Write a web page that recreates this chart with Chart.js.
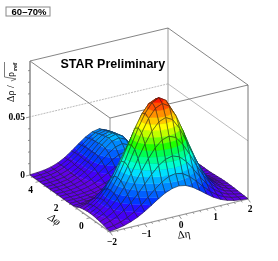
<!DOCTYPE html>
<html>
<head>
<meta charset="utf-8">
<script src="https://cdn.jsdelivr.net/npm/chart.js@4"></script>
<style>
html, body { margin: 0; padding: 0; background: #fff; }
canvas { display: block; }
</style>
</head>
<body>
<canvas id="surfaceChart" width="278" height="261"></canvas>
<script>
// bin edges of the correlation
const etaEdges = [-2, -1.8, -1.6, -1.4, -1.2, -1, -0.8, -0.6, -0.4, -0.2, 0, 0.2, 0.4, 0.6, 0.8, 1, 1.2, 1.4, 1.6, 1.8, 2];
const phiEdges = [-1.571, -1.309, -1.047, -0.785, -0.524, -0.262, 0, 0.262, 0.524, 0.785, 1.047, 1.309, 1.571, 1.833, 2.094, 2.356, 2.618, 2.88, 3.142, 3.403, 3.665, 3.927, 4.189, 4.451, 4.712];

// values, in units of 1e-4, one row per phi edge
const rhoRows = [
    [7, 14, 26, 45, 71, 105, 144, 185, 221, 246, 255, 244, 214, 173, 128, 86, 54, 31, 16, 8, 3],
    [10, 19, 35, 60, 95, 140, 192, 247, 295, 328, 340, 326, 286, 231, 170, 115, 72, 41, 21, 10, 4],
    [21, 38, 63, 102, 153, 215, 285, 355, 415, 455, 470, 450, 395, 319, 235, 159, 99, 56, 30, 14, 6],
    [27, 50, 84, 134, 202, 284, 376, 468, 547, 601, 620, 594, 521, 420, 311, 210, 131, 74, 39, 19, 8],
    [33, 61, 103, 164, 247, 348, 461, 574, 670, 736, 760, 728, 639, 515, 381, 258, 160, 91, 48, 23, 10],
    [38, 69, 116, 186, 280, 394, 522, 649, 759, 833, 860, 824, 723, 583, 431, 292, 181, 103, 54, 26, 11],
    [39, 71, 120, 192, 289, 408, 540, 672, 785, 862, 890, 853, 748, 603, 446, 302, 188, 107, 56, 27, 12],
    [38, 69, 116, 186, 280, 394, 522, 649, 759, 833, 860, 824, 723, 583, 431, 292, 181, 103, 54, 26, 11],
    [33, 59, 100, 160, 241, 339, 449, 559, 653, 717, 740, 709, 622, 502, 371, 251, 156, 89, 47, 22, 10],
    [25, 45, 76, 121, 182, 256, 340, 423, 494, 543, 560, 536, 471, 380, 281, 190, 118, 67, 35, 17, 7],
    [11, 21, 39, 67, 106, 156, 215, 276, 329, 367, 380, 364, 320, 258, 190, 129, 80, 46, 24, 11, 5],
    [2, 5, 12, 24, 44, 73, 113, 157, 198, 229, 240, 227, 192, 146, 99, 60, 32, 16, 7, 3, 1],
    [1, 2, 5, 11, 22, 40, 66, 97, 128, 151, 160, 148, 116, 78, 44, 22, 9, 3, 1, 0, 0],
    [0, 1, 3, 8, 16, 30, 49, 73, 96, 114, 120, 111, 87, 58, 33, 16, 7, 2, 1, 0, 0],
    [0, 1, 3, 8, 16, 30, 49, 73, 96, 114, 120, 111, 87, 58, 33, 16, 7, 2, 1, 0, 0],
    [1, 2, 5, 11, 23, 42, 70, 103, 136, 161, 170, 157, 123, 83, 47, 23, 10, 3, 1, 0, 0],
    [1, 2, 6, 15, 30, 55, 90, 134, 176, 208, 220, 199, 148, 90, 45, 19, 6, 2, 0, 0, 0],
    [1, 3, 8, 18, 36, 67, 111, 164, 216, 255, 270, 245, 182, 111, 56, 23, 8, 2, 1, 0, 0],
    [1, 3, 9, 20, 41, 75, 123, 182, 240, 284, 300, 272, 202, 123, 62, 26, 9, 2, 1, 0, 0],
    [1, 3, 9, 20, 42, 77, 127, 188, 248, 293, 310, 281, 209, 127, 64, 26, 9, 2, 1, 0, 0],
    [1, 3, 9, 20, 41, 75, 123, 182, 240, 284, 300, 272, 202, 123, 62, 26, 9, 2, 1, 0, 0],
    [2, 5, 11, 24, 46, 80, 128, 183, 236, 276, 290, 263, 195, 119, 60, 25, 8, 2, 1, 0, 0],
    [3, 6, 13, 27, 51, 86, 131, 183, 232, 267, 280, 254, 189, 115, 58, 24, 8, 2, 1, 0, 0],
    [2, 6, 13, 26, 49, 82, 126, 175, 222, 256, 268, 243, 181, 110, 55, 23, 8, 2, 1, 0, 0],
    [2, 6, 12, 25, 46, 78, 120, 167, 211, 243, 255, 231, 172, 105, 53, 22, 7, 2, 1, 0, 0]
];

const etaTicks = [-2, -1, 0, 1, 2];
const phiTicks = [0, 2, 4];
const rhoTicks = ['0', '0.05'];
const centralityLabel = '60\u201370%';
const starLabel = 'STAR Preliminary';

// ROOT style rainbow, one colour per contour band
const bandColors = ['#6000e8', '#4400f8', '#2410ff', '#0038ff', '#0060ff', '#0088ff', '#00b0ff', '#00e0ff', '#00ffd0', '#00ff90',
    '#00ff50', '#20ff00', '#70ff00', '#c0ff00', '#ffff00', '#ffc800', '#ff9000', '#ff5000', '#ff1800', '#e00000'];
const bandStep = 0.0048;

const etaMin = -2, etaMax = 2, phiMin = -1.571, phiMax = 4.712, rhoMax = 0.098;

// box projection, orthographic, in canvas units
function project(eta, phi, rho) {
    const s = (eta - etaMin) / (etaMax - etaMin);
    const t = (phi - phiMin) / (phiMax - phiMin);
    return {
        x: 110 + 138 * s - 80 * t,
        y: 232 - 33 * s - 57 * t - 114 * rho / rhoMax
    };
}

function lineSet(points, color, width, dash) {
    return {
        data: points, showLine: true, fill: false, pointRadius: 0, tension: 0,
        borderColor: color, borderWidth: width, borderDash: dash || [], clip: false
    };
}

// clip a polygon of {eta,phi,rho} to rho >= lo (sign 1) or rho <= lo (sign -1)
function clipRho(poly, level, sign) {
    const out = [];
    for (let i = 0; i < poly.length; i++) {
        const a = poly[i], b = poly[(i + 1) % poly.length];
        const da = (a.rho - level) * sign, db = (b.rho - level) * sign;
        if (da >= 0) out.push(a);
        if ((da >= 0) !== (db >= 0)) {
            const f = da / (da - db);
            out.push({
                eta: a.eta + f * (b.eta - a.eta),
                phi: a.phi + f * (b.phi - a.phi),
                rho: a.rho + f * (b.rho - a.rho)
            });
        }
    }
    return out;
}

const paintList = [];

// box behind the surface
const corner = (eta, phi, rho) => project(eta, phi, rho);
const boxColor = '#666';
paintList.push(lineSet([corner(etaMax, phiMax, 0.05), corner(etaMin, phiMax, 0.05)], '#aaa', 0.8, [2, 1]));
paintList.push(lineSet([corner(etaMax, phiMax, 0.05), corner(etaMax, phiMin, 0.05)], '#aaa', 0.8));
paintList.push(lineSet([corner(etaMax, phiMax, 0), corner(etaMax, phiMax, rhoMax)], '#aaa', 1.2));
paintList.push(lineSet([corner(etaMin, phiMin, 0), corner(etaMin, phiMin, rhoMax)], '#777', 0.8));
paintList.push(lineSet([corner(etaMax, phiMin, 0), corner(etaMax, phiMin, rhoMax)], '#777', 1));
paintList.push(lineSet([corner(etaMax, phiMax, 0), corner(etaMax, phiMin, 0)], '#aaa', 1));
paintList.push(lineSet([corner(etaMin, phiMax, rhoMax), corner(etaMax, phiMax, rhoMax), corner(etaMax, phiMin, rhoMax),
    corner(etaMin, phiMin, rhoMax), corner(etaMin, phiMax, rhoMax)], boxColor, 0.8));
paintList.push(lineSet([corner(etaMin, phiMax, 0), corner(etaMin, phiMax, rhoMax)], '#888', 1.5));
paintList.push(lineSet([corner(etaMin, phiMax, 0), corner(etaMin, phiMin, 0), corner(etaMax, phiMin, 0)], '#999', 1.2));

// axis ticks
for (let v = 0; v <= 0.09; v += 0.01) {
    const p = corner(etaMin, phiMax, v);
    const major = Math.abs(v) < 1e-6 || Math.abs(v - 0.05) < 1e-6;
    paintList.push(lineSet([p, { x: p.x - (major ? 4 : 2), y: p.y + (major ? 1 : 0.5) }], '#777', 0.8));
}
for (let v = -2; v <= 2.001; v += 0.2) {
    const p = corner(v, phiMin, 0);
    const major = Math.abs(v - Math.round(v)) < 1e-6;
    paintList.push(lineSet([p, { x: p.x + (major ? 2.4 : 1.2), y: p.y + (major ? 3.4 : 1.7) }], '#777', 0.8));
}
for (let v = -1.5; v <= 4.501; v += 0.5) {
    const p = corner(etaMin, v, 0);
    const major = Math.abs(v / 2 - Math.round(v / 2)) < 1e-6;
    paintList.push(lineSet([p, { x: p.x - (major ? 3.5 : 1.8), y: p.y + (major ? 0.9 : 0.5) }], '#777', 0.8));
}

// surface cells back to front, split into contour bands like ROOT surf1
for (let j = phiEdges.length - 2; j >= 0; j--) {
    for (let i = etaEdges.length - 2; i >= 0; i--) {
        const cell = [[i, j], [i + 1, j], [i + 1, j + 1], [i, j + 1]].map(([a, b]) => (
            { eta: etaEdges[a], phi: phiEdges[b], rho: rhoRows[b][a] * 1e-4 }
        ));
        const rhos = cell.map(c => c.rho);
        const first = Math.floor(Math.min(...rhos) / bandStep);
        const last = Math.floor(Math.max(...rhos) / bandStep);
        for (let b = first; b <= last; b++) {
            let poly = clipRho(cell, b * bandStep, 1);
            poly = clipRho(poly, (b + 1) * bandStep, -1);
            if (poly.length < 3) continue;
            const color = bandColors[Math.min(b, bandColors.length - 1)];
            const pts = poly.map(c => project(c.eta, c.phi, c.rho));
            pts.push(pts[0]);
            paintList.push({
                data: pts, showLine: true, fill: 'shape', pointRadius: 0, tension: 0,
                backgroundColor: color, borderColor: color, borderWidth: 0.4, clip: false
            });
        }
        const outline = cell.map(c => project(c.eta, c.phi, c.rho));
        outline.push(outline[0]);
        paintList.push(lineSet(outline, '#1a1a1a', 0.5));
    }
}

// all text goes on top
const textPlugin = {
    id: 'starText',
    afterDraw(chart) {
        const ctx = chart.ctx;
        const xs = chart.scales.x, ys = chart.scales.y;
        const at = p => ({ x: xs.getPixelForValue(p.x), y: ys.getPixelForValue(p.y) });
        ctx.save();
        ctx.fillStyle = '#000';
        ctx.textAlign = 'center';
        ctx.textBaseline = 'middle';

        ctx.font = 'bold 9.5px "Liberation Serif"';
        etaTicks.forEach(v => {
            const p = at(project(v, phiMin, 0));
            ctx.fillText(String(v).replace('-', '\u2212'), p.x + 2, p.y + 10.5);
        });
        phiTicks.forEach(v => {
            const p = at(project(etaMin, v, 0));
            ctx.fillText(String(v), p.x - 8.5, p.y + 8.8);
        });
        rhoTicks.forEach(v => {
            const p = at(project(etaMin, phiMax, Number(v)));
            ctx.textAlign = 'right';
            ctx.fillText(v, p.x - 5, p.y + 0.5);
            ctx.textAlign = 'center';
        });

        // axis titles
        ctx.font = 'italic 11px "Liberation Serif"';
        ctx.save();
        ctx.translate(54, 220);
        ctx.rotate(35 * Math.PI / 180);
        ctx.fillText('\u0394\u03c6', 0, 0);
        ctx.restore();
        ctx.save();
        ctx.translate(184, 235);
        ctx.rotate(-8 * Math.PI / 180);
        ctx.font = '11px "Liberation Serif"';
        ctx.fillText('\u0394\u03b7', 0, 0);
        ctx.restore();

        // rho axis title, reads upwards
        ctx.save();
        ctx.translate(14, 102);
        ctx.rotate(-Math.PI / 2);
        ctx.textAlign = 'left';
        ctx.textBaseline = 'alphabetic';
        ctx.font = '10px "Liberation Serif"';
        ctx.fillText('\u0394\u03c1 / ', 0, 0);
        ctx.strokeStyle = '#444';
        ctx.lineWidth = 0.7;
        ctx.beginPath();
        ctx.moveTo(21, -3);
        ctx.lineTo(23, 2);
        ctx.lineTo(25, -9.5);
        ctx.lineTo(40, -9.5);
        ctx.stroke();
        ctx.fillText('\u03c1', 25, 0);
        ctx.font = 'bold 7px "Liberation Serif"';
        ctx.fillText('ref', 31, 3);
        ctx.restore();

        ctx.textAlign = 'left';
        ctx.textBaseline = 'alphabetic';
        ctx.font = 'bold 12.5px "Liberation Sans"';
        ctx.fillText(starLabel, 60.5, 67.5);

        // centrality box
        ctx.fillStyle = '#fff';
        ctx.strokeStyle = '#888';
        ctx.lineWidth = 1;
        ctx.fillRect(6, 7, 44, 9);
        ctx.strokeRect(6, 7, 44, 9);
        ctx.fillStyle = '#000';
        ctx.textAlign = 'center';
        ctx.font = 'bold 9.5px "Liberation Sans"';
        ctx.fillText(centralityLabel, 29, 15);
        ctx.restore();
    }
};

// first dataset is painted last, so hand them over reversed
new Chart(document.getElementById('surfaceChart').getContext('2d'), {
    type: 'scatter',
    data: { datasets: paintList.reverse() },
    options: {
        responsive: false,
        animation: false,
        events: [],
        layout: { padding: 0 },
        plugins: { legend: { display: false }, tooltip: { enabled: false } },
        scales: {
            x: { type: 'linear', min: 0, max: 278, display: false },
            y: { type: 'linear', min: 0, max: 261, reverse: true, display: false }
        }
    },
    plugins: [textPlugin]
});
</script>
</body>
</html>
